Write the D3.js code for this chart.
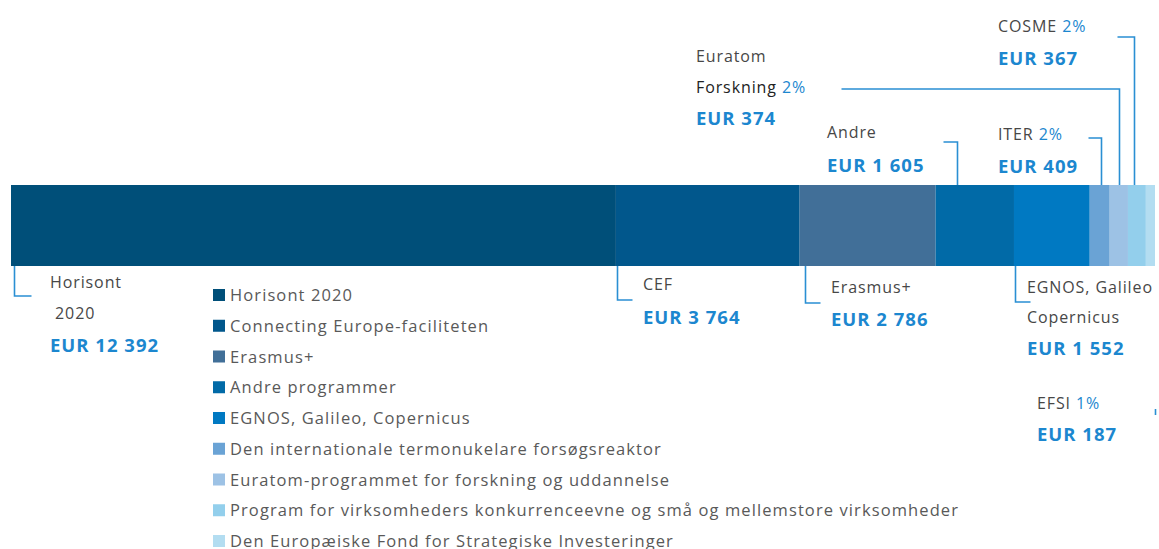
<!DOCTYPE html>
<html>
<head>
<meta charset="utf-8">
<script src="https://cdn.jsdelivr.net/npm/d3@7"></script>
<style>
  body { margin: 0; background: #fff; }
  svg text { font-family: "Open Sans", Lato, sans-serif; }
</style>
</head>
<body>
<svg id="chart" width="1159" height="549"></svg>
<script>
// programmes in bar order
var programmes = ['Horisont 2020', 'Connecting Europe-faciliteten', 'Erasmus+', 'Andre programmer',
  'EGNOS, Galileo, Copernicus', 'Den internationale termonukelare forsøgsreaktor',
  'Euratom-programmet for forskning og uddannelse',
  'Program for virksomheders konkurrenceevne og små og mellemstore virksomheder',
  'Den Europæiske Fond for Strategiske Investeringer'];
var amounts = [12392, 3764, 2786, 1605, 1552, 409, 374, 367, 187];
var shortNames = [['Horisont', '\u00a02020'], ['CEF'], ['Erasmus+'], ['Andre'], ['EGNOS, Galileo', 'Copernicus'],
  ['ITER'], ['Euratom', 'Forskning'], ['COSME'], ['EFSI']];
var percents = ['', '', '', '', '', '2%', '2%', '2%', '1%'];
var colours = ['#004f79', '#01578c', '#416f98', '#016aa7', '#0079c2', '#6aa3d5', '#9dc2e5', '#93cfec', '#b3ddf1'];

var svg = d3.select('#chart');
var total = d3.sum(amounts);
var x = d3.scaleLinear().domain([0, total]).range([11, 1155]);
var barTop = 185, barBottom = 266;

var starts = [];
amounts.reduce(function(acc, v) { starts.push(acc); return acc + v; }, 0);

// bar segments
svg.selectAll('rect.seg')
  .data(amounts)
  .enter().append('rect')
    .attr('class', 'seg')
    .attr('x', function(d, i) { return x(starts[i]); })
    .attr('y', barTop)
    .attr('width', function(d, i) { return x(starts[i] + d) - x(starts[i]); })
    .attr('height', barBottom - barTop)
    .attr('fill', function(d, i) { return colours[i]; });

// leader lines + labels (layout only)
// at: fraction inside the segment, ey: elbow y, ex: elbow length (signed), tx: text x, ty: baselines
var layout = [
  { at: 0.005, ey: 296, ex: 17, tx: 50, ty: [288, 319, 352] },
  { at: 0.005, ey: 300, ex: 15, tx: 643, ty: [290, 324] },
  { at: 0.04, ey: 303, ex: 15, tx: 831, ty: [293, 326] },
  { at: 0.27, ey: 142, ex: -14, tx: 827, ty: [138, 172] },
  { at: 0.01, ey: 302, ex: 15, tx: 1027, ty: [293, 323, 355] },
  { at: 0.55, ey: 138, ex: -13, tx: 998, ty: [140, 173] },
  { at: 0.5, ey: 89, ex: -278, tx: 696, ty: [62, 93, 125] },
  { at: 0.35, ey: 37, ex: -17, tx: 998, ty: [32, 65] },
  { at: 0.95, ey: 412, ex: 0, tx: 1037, ty: [409, 441] }
];

var lineColour = '#2a8fd3';
var valueColour = '#1c87cf';
var textColour = '#474747';

layout.forEach(function(l, i) {
  var lx = Math.round(x(starts[i] + amounts[i] * l.at)) + 0.5;
  var above = l.ey < barTop;
  var pts;
  if (l.ex === 0) {
    pts = [[lx, l.ey - 3], [lx, l.ey + 3]];
  } else {
    pts = [[lx, above ? barTop : barBottom], [lx, l.ey], [lx + l.ex, l.ey]];
  }
  svg.append('path')
    .attr('d', d3.line()(pts))
    .attr('fill', 'none')
    .attr('stroke', lineColour)
    .attr('stroke-width', 1.6);

  var names = shortNames[i];
  names.forEach(function(n, j) {
    var t = svg.append('text')
      .attr('x', l.tx)
      .attr('y', l.ty[j])
      .attr('font-size', 16)
      .attr('letter-spacing', 0.9)
      .attr('fill', (i === 6 && j === 1) ? '#222' : textColour)
      .text(n);
    if (j === names.length - 1 && percents[i]) {
      t.append('tspan').attr('fill', valueColour).text(' ' + percents[i]);
    }
  });
  svg.append('text')
    .attr('x', l.tx)
    .attr('y', l.ty[names.length])
    .attr('font-size', 18.5)
    .attr('letter-spacing', 1)
    .attr('font-weight', 'bold')
    .attr('fill', valueColour)
    .text('EUR ' + d3.format(',')(amounts[i]).replace(/,/g, ' '));
});

// legend
var legend = svg.append('g');
var ly = d3.scalePoint().domain(programmes).range([295, 541]);
programmes.forEach(function(p, i) {
  legend.append('rect')
    .attr('x', 213).attr('y', ly(p) - 6)
    .attr('width', 12).attr('height', 12)
    .attr('fill', colours[i]);
  legend.append('text')
    .attr('x', 230).attr('y', ly(p) + 6)
    .attr('font-size', 16.5)
    .attr('letter-spacing', 1.1)
    .attr('fill', '#595959')
    .text(p);
});
</script>
</body>
</html>
